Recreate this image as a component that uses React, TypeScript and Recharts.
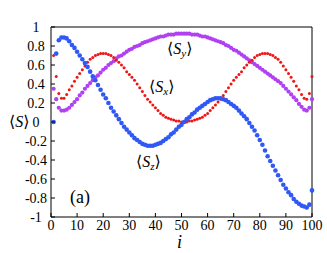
import { ScatterChart, Scatter, XAxis, YAxis } from "recharts";

const STEPS = Array.from({ length: 100 }, (_, k) => k + 1);

// <S_x>
const SX = [
    0.70, 0.48, 0.30, 0.25, 0.25, 0.29, 0.34, 0.38, 0.43, 0.47,
    0.51, 0.55, 0.59, 0.63, 0.66, 0.68, 0.70, 0.71, 0.72, 0.72,
    0.72, 0.71, 0.70, 0.68, 0.65, 0.63, 0.60, 0.57, 0.53, 0.50,
    0.47, 0.44, 0.40, 0.36, 0.32, 0.28, 0.24, 0.21, 0.18, 0.15,
    0.12, 0.09, 0.07, 0.05, 0.04, 0.03, 0.02, 0.01, 0.01, 0.00,
    0.00, 0.00, 0.01, 0.01, 0.02, 0.03, 0.04, 0.05, 0.07, 0.09,
    0.12, 0.15, 0.18, 0.21, 0.24, 0.28, 0.32, 0.36, 0.40, 0.44,
    0.47, 0.50, 0.53, 0.57, 0.60, 0.63, 0.65, 0.68, 0.70, 0.71,
    0.72, 0.72, 0.72, 0.71, 0.70, 0.68, 0.66, 0.63, 0.59, 0.55,
    0.51, 0.47, 0.43, 0.38, 0.34, 0.29, 0.25, 0.24, 0.30, 0.48,
];

// <S_y>
const SY = [
    0.35, 0.24, 0.15, 0.12, 0.12, 0.13, 0.15, 0.18, 0.21, 0.24,
    0.28, 0.31, 0.35, 0.38, 0.41, 0.44, 0.47, 0.49, 0.52, 0.55,
    0.57, 0.60, 0.62, 0.64, 0.67, 0.69, 0.70, 0.72, 0.74, 0.76,
    0.77, 0.79, 0.80, 0.81, 0.83, 0.84, 0.85, 0.86, 0.87, 0.88,
    0.89, 0.90, 0.90, 0.91, 0.92, 0.92, 0.92, 0.93, 0.93, 0.93,
    0.93, 0.93, 0.93, 0.92, 0.92, 0.92, 0.91, 0.90, 0.90, 0.89,
    0.88, 0.87, 0.86, 0.85, 0.84, 0.83, 0.81, 0.80, 0.78, 0.76,
    0.75, 0.73, 0.71, 0.69, 0.67, 0.65, 0.63, 0.61, 0.59, 0.57,
    0.55, 0.53, 0.51, 0.49, 0.47, 0.45, 0.43, 0.41, 0.38, 0.35,
    0.32, 0.29, 0.26, 0.23, 0.19, 0.16, 0.13, 0.12, 0.15, 0.24,
];

// <S_z>
const SZ = [
    0.00, 0.72, 0.86, 0.89, 0.89, 0.88, 0.85, 0.81, 0.78, 0.74,
    0.70, 0.66, 0.62, 0.58, 0.53, 0.48, 0.44, 0.39, 0.34, 0.29,
    0.25, 0.20, 0.15, 0.11, 0.07, 0.03, -0.01, -0.05, -0.08, -0.11,
    -0.14, -0.17, -0.19, -0.21, -0.23, -0.24, -0.25, -0.25, -0.25, -0.24,
    -0.23, -0.22, -0.20, -0.18, -0.16, -0.13, -0.11, -0.08, -0.05, -0.03,
    0.00, 0.03, 0.05, 0.08, 0.10, 0.13, 0.15, 0.17, 0.19, 0.21,
    0.23, 0.24, 0.25, 0.25, 0.25, 0.24, 0.23, 0.21, 0.19, 0.17,
    0.15, 0.12, 0.09, 0.06, 0.03, -0.01, -0.05, -0.09, -0.14, -0.19,
    -0.24, -0.30, -0.36, -0.41, -0.46, -0.51, -0.56, -0.61, -0.66, -0.70,
    -0.74, -0.77, -0.81, -0.84, -0.86, -0.88, -0.89, -0.90, -0.87, -0.72,
];

const X_TICKS = [0, 10, 20, 30, 40, 50, 60, 70, 80, 90, 100];
const Y_TICKS = [-1, -0.8, -0.6, -0.4, -0.2, 0, 0.2, 0.4, 0.6, 0.8, 1];

const FONT = "'Liberation Serif', 'DejaVu Serif', serif";

const toPoints = (vals: number[]) => STEPS.map((i, k) => ({ i, v: vals[k] }));

const dot = (r: number, fill: string) => (p: any) =>
    <circle cx={p.cx} cy={p.cy} r={r} fill={fill} />;

function BottomTick({ x, y, payload }: any) {
    return (
        <g>
            <line x1={x} y1={y} x2={x} y2={y - 4} stroke="#000" />
            <text x={x} y={y + 13} textAnchor="middle" fontSize={14} fontFamily={FONT} fill="#000">
                {payload.value}
            </text>
        </g>
    );
}

function TopTick({ x, y }: any) {
    return <line x1={x} y1={y} x2={x} y2={y + 4} stroke="#000" />;
}

function LeftTick({ x, y, payload }: any) {
    return (
        <g>
            <line x1={x} y1={y} x2={x + 4} y2={y} stroke="#000" />
            <text x={x - 15} y={y + 5} textAnchor="middle" fontSize={14} fontFamily={FONT} fill="#000">
                {String(payload.value)}
            </text>
        </g>
    );
}

function RightTick({ x, y }: any) {
    return <line x1={x} y1={y} x2={x - 4} y2={y} stroke="#000" />;
}

// angle-bracket average label, e.g. <S_y>
function Avg({ x, y, sub }: { x: number; y: number; sub?: string }) {
    return (
        <text x={x} y={y} fontSize={16} fontFamily={FONT} fill="#000">
            ⟨<tspan fontStyle="italic">S</tspan>
            {sub ? <tspan fontSize={11} fontStyle="italic" dy={3}>{sub}</tspan> : null}
            <tspan dy={sub ? -3 : 0}>⟩</tspan>
        </text>
    );
}

export default function App() {
    return (
        <div style={{ position: "absolute", left: 0, top: 0, width: 327, height: 253 }}>
            <ScatterChart width={327} height={253} margin={{ top: 26, right: 14, bottom: 35, left: 50 }}>
                <XAxis
                    type="number"
                    dataKey="i"
                    domain={[0, 100]}
                    ticks={X_TICKS}
                    height={1}
                    tickSize={0}
                    tickMargin={0}
                    tick={<BottomTick />}
                    axisLine={{ stroke: "#000" }}
                    interval={0}
                />
                <XAxis
                    xAxisId="top"
                    orientation="top"
                    type="number"
                    domain={[0, 100]}
                    ticks={X_TICKS}
                    height={1}
                    tickSize={0}
                    tickMargin={0}
                    tick={<TopTick />}
                    axisLine={{ stroke: "#000" }}
                    interval={0}
                />
                <YAxis
                    type="number"
                    dataKey="v"
                    domain={[-1, 1]}
                    ticks={Y_TICKS}
                    width={1}
                    tickSize={0}
                    tickMargin={0}
                    tick={<LeftTick />}
                    axisLine={{ stroke: "#000" }}
                    interval={0}
                />
                <YAxis
                    yAxisId="right"
                    orientation="right"
                    type="number"
                    domain={[-1, 1]}
                    ticks={Y_TICKS}
                    width={1}
                    tickSize={0}
                    tickMargin={0}
                    tick={<RightTick />}
                    axisLine={{ stroke: "#000" }}
                    interval={0}
                />
                <Scatter data={toPoints(SY)} shape={dot(2.1, "#b040f2")} isAnimationActive={false} />
                <Scatter data={toPoints(SX)} shape={dot(1.5, "#f01515")} isAnimationActive={false} />
                <Scatter data={toPoints(SZ)} shape={dot(2.3, "#2f58f4")} isAnimationActive={false} />
            </ScatterChart>
            <svg width={327} height={253} style={{ position: "absolute", left: 0, top: 0, pointerEvents: "none" }}>
                <Avg x={167} y={54} sub="y" />
                <Avg x={149} y={92} sub="x" />
                <Avg x={136} y={167} sub="z" />
                <Avg x={9} y={127} />
                <text x={70} y={203} fontSize={18} fontFamily={FONT} fill="#000">(a)</text>
                <text x={177} y={248} fontSize={18} fontStyle="italic" fontFamily={FONT} fill="#000">i</text>
            </svg>
        </div>
    );
}
